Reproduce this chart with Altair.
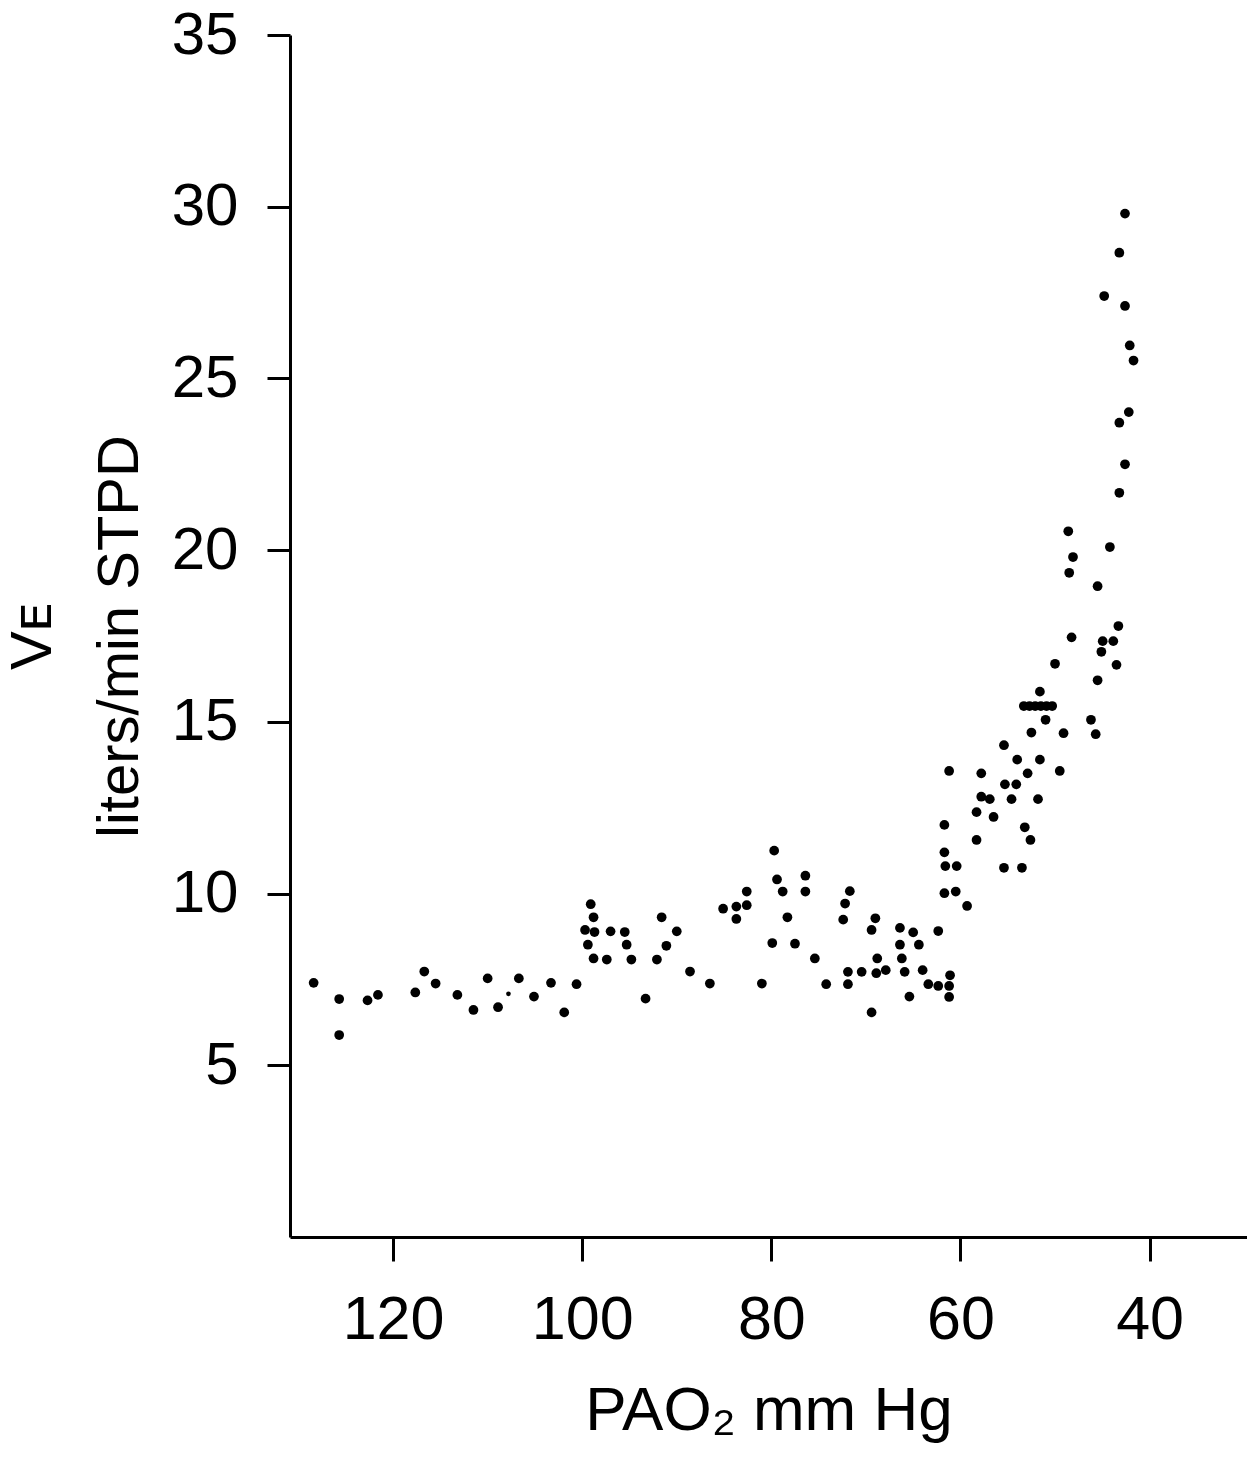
import altair as alt
import pandas as pd

# PAO2 (mm Hg) and VE (liters/min STPD)
pao2 = [128.4, 125.7, 125.7, 122.7, 121.6, 117.65, 116.7, 115.5, 113.2, 111.5, 110.0, 108.9,
        106.7, 105.1, 103.3, 101.9, 100.6, 98.8, 97.4, 94.8, 99.1, 98.8, 99.7, 98.7, 99.4,
        97.0, 95.5, 95.3, 93.3, 92.1, 91.6, 91.1, 90.0, 88.6, 86.5, 85.1, 83.7, 83.7, 82.6,
        82.6, 81.0, 79.9, 79.7, 79.4, 78.8, 78.3, 77.5, 76.4, 76.4, 75.4, 74.2, 71.7, 72.2,
        72.4, 71.9, 71.9, 70.45, 69.0, 69.4, 68.8, 68.9, 67.9, 69.4, 66.4, 65.0, 66.4, 64.4,
        66.2, 65.9, 64.0, 65.4, 63.4, 62.35, 62.35, 61.2, 61.1, 61.2, 61.7, 61.6, 60.4, 61.7,
        60.5, 59.3, 58.3, 61.7, 61.2, 57.8, 52.9, 49.5, 55.3, 54.1, 57.8, 56.9, 54.6, 51.8,
        58.3, 56.5, 53.2, 52.6, 55.4, 53.5, 55.4, 54.0, 51.6, 52.5, 49.1, 45.7, 51.0, 46.2,
        53.3, 52.7, 52.1, 51.5, 50.9, 50.3, 51.6, 50.0, 48.25, 48.6, 44.2, 48.1, 48.5, 45.5,
        43.3, 44.96, 43.84, 45.1, 43.5, 45.5, 42.6, 43.2, 44.8, 42.6, 42.1, 41.7, 42.2, 43.2,
        42.6, 43.2]
ve = [7.4, 6.93, 5.88, 6.89, 7.05, 7.12, 7.73, 7.38, 7.05, 6.61, 7.53, 6.69,
      7.53, 7.0, 7.4, 6.54, 7.36, 8.11, 8.08, 8.08, 9.69, 9.31, 8.94, 8.88, 8.51,
      8.90, 8.88, 8.51, 6.94, 8.08, 9.31, 8.48, 8.90, 7.73, 7.38, 9.56, 9.62, 9.26, 10.06,
      9.66, 7.38, 8.56, 11.25, 10.41, 10.06, 9.31, 8.54, 10.52, 10.06, 8.11, 7.36, 10.07, 9.71,
      9.24, 7.72, 7.36, 7.72, 9.28, 8.94, 8.11, 7.68, 7.77, 6.54, 9.0, 8.87, 8.51, 8.51,
      8.11, 7.72, 7.77, 7.0, 7.36, 7.31, 8.91, 7.31, 7.62, 6.99, 11.2, 10.8, 10.8, 10.01,
      10.06, 9.64, 11.56, 12.0, 13.57, 13.5, 13.5, 13.57, 13.18, 13.18, 12.82, 12.75, 12.75, 12.75,
      12.37, 12.23, 11.93, 11.56, 10.75, 10.75, 14.32, 13.9, 13.9, 14.69, 14.67, 14.64, 15.06, 15.06,
      15.46, 15.46, 15.46, 15.46, 15.46, 15.46, 15.88, 16.69, 17.46, 20.55, 20.09, 19.8, 19.34, 18.95,
      17.79, 17.35, 17.35, 17.04, 16.66, 16.21, 29.8, 28.66, 27.4, 27.11, 25.96, 25.52, 24.02, 23.71,
      22.5, 21.67]

# one smaller dot in the original
small_pao2 = [107.8]
small_ve = [7.08]

x_ticks = [120, 100, 80, 60, 40]
y_ticks = [5, 10, 15, 20, 25, 30, 35]

df = pd.DataFrame({"pao2": pao2, "ve": ve})
df_small = pd.DataFrame({"pao2": small_pao2, "ve": small_ve})

FONT = "Liberation Sans"

x_enc = alt.X(
    "pao2:Q",
    scale=alt.Scale(domain=[29.7, 130.9], reverse=True, nice=False, zero=False),
    axis=alt.Axis(
        values=x_ticks,
        title="PAO₂ mm Hg",
        titleFontSize=62,
        titleFontWeight="normal",
        titlePadding=30,
        labelFontSize=61,
        labelPadding=29,
        tickSize=24,
        grid=False,
        labelOverlap=False,
        labelFlush=False,
    ),
)
y_enc = alt.Y(
    "ve:Q",
    scale=alt.Scale(domain=[0, 35], nice=False, zero=True),
    axis=alt.Axis(
        values=y_ticks,
        title=["Vᴇ", "liters/min STPD"],
        titleFontSize=58,
        titleFontWeight="normal",
        titleLineHeight=87,
        titlePadding=22,
        labelFontSize=60,
        labelPadding=29,
        tickSize=23,
        grid=False,
        labelOverlap=False,
    ),
)

main = alt.Chart(df).mark_circle(size=95, color="black", opacity=1).encode(x=x_enc, y=y_enc)
small = alt.Chart(df_small).mark_circle(size=22, color="black", opacity=1).encode(
    x=alt.X("pao2:Q"), y=alt.Y("ve:Q")
)

chart = (
    alt.layer(main, small)
    .properties(
        width=957,
        height=1202,
        autosize=alt.AutoSizeParams(type="none"),
        padding={"left": 282, "top": 27, "right": 0, "bottom": 215},
        background="white",
    )
    .configure_view(stroke=None)
    .configure_axis(
        domainColor="black",
        domainWidth=3,
        tickColor="black",
        tickWidth=3,
        labelColor="black",
        titleColor="black",
        labelFont=FONT,
        titleFont=FONT,
    )
)

chart.save("out.html", embed_options={"renderer": "svg", "actions": False})
